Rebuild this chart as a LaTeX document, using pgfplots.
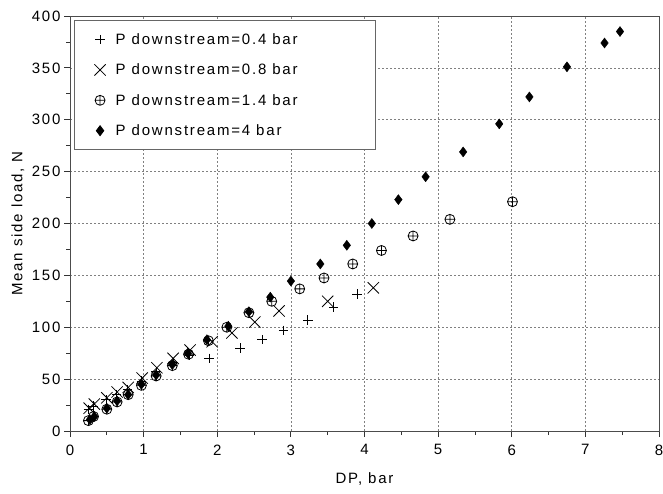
\documentclass[border=0pt]{standalone}
\usepackage{fontspec}
\setmainfont{Liberation Sans}[LetterSpace=12]
\usepackage{pgfplots}
\pgfplotsset{compat=1.18}
\usetikzlibrary{plotmarks,calc}
\pgfplotstableread{
x y
0.25 21
0.32 24
0.49 30
0.63 35
0.78 40
0.97 48
1.17 57
1.40 66
1.62 73
1.89 70
2.31 80
2.61 88
2.90 97
3.23 107
3.58 119.5
3.90 132
}\pa
\pgfplotstableread{
x y
0.26 22
0.33 26
0.50 32
0.64 37.6
0.79 42
0.98 51
1.18 61
1.40 70
1.63 78
1.93 86
2.20 94.5
2.51 105
2.84 115.7
3.50 125
4.12 138
}\pb
\pgfplotstableread{
x y
0.25 10
0.32 14
0.50 21
0.64 28
0.79 35
0.97 44
1.17 53
1.39 63
1.61 74
1.88 87
2.13 100
2.43 114
2.74 125
3.12 137
3.45 147.5
3.84 161
4.23 174
4.66 188
5.16 204
6.01 221
}\pc
\pgfplotstableread{
x y
0.27 11
0.33 14
0.50 22
0.64 29
0.79 35
0.97 45
1.17 54
1.39 64
1.60 75
1.86 88
2.15 101
2.43 115
2.72 129
3.00 144.5
3.40 161
3.76 179
4.10 200
4.46 223
4.83 245
5.34 269
5.83 296
6.24 322
6.75 351
7.26 374
7.47 385
}\pd
\begin{document}
\begin{tikzpicture}
\begin{axis}[
  scale only axis, width=589pt, height=415pt,
  xmin=0, xmax=8, ymin=0, ymax=400,
  xtick={0,1,...,8}, ytick={0,50,...,400},
  minor x tick num=1, minor y tick num=1,
  grid=major,
  major grid style={gray, dash pattern=on 2pt off 2pt, line width=0.7pt},
  tick align=outside, tick pos=left,
  major tick length=6pt, minor tick length=4pt,
  every tick/.style={black!80, line width=0.8pt},
  axis line style={black!70, line width=0.9pt},
  /pgf/number format/assume math mode=true,
  ticklabel style={font=\fontsize{15}{17}\selectfont},
  xticklabel style={yshift=-4pt},
  every axis x label/.style={at={(axis description cs:0.5,-0.1157)}, anchor=center, font=\fontsize{15}{17}\selectfont},
  every axis y label/.style={at={(axis description cs:-0.0883,0.5)}, rotate=90, anchor=center, font=\fontsize{15}{17}\selectfont},
  xlabel={DP, bar}, ylabel={Mean side load, N},
  legend style={at={(axis description cs:0,1)}, anchor=north west,
    xshift=4pt, yshift=-4pt, draw=black!60, line width=0.8pt,
    font=\fontsize{15}{17}\selectfont, row sep=14pt, column sep=8pt,
    inner xsep=20pt, inner ysep=11pt},
  legend cell align=left,
]
\addplot[only marks, mark=+, mark size=4.7pt, line width=0.8pt, black] table {\pa};
\addlegendentry{P downstream=0.4 bar\hspace*{56pt}}
\addplot[only marks, mark=x, mark size=8pt, line width=0.8pt, black] table {\pb};
\addlegendentry{P downstream=0.8 bar}
\addplot[only marks, mark=oplus, mark size=5pt, line width=0.8pt, black] table {\pc};
\addlegendentry{P downstream=1.4 bar}
\addplot[only marks, mark=diamond*, mark size=5pt, black] table {\pd};
\addlegendentry{P downstream=4 bar}
\end{axis}
\pgfresetboundingbox
\path[use as bounding box] ($(current axis.south west)+(-70pt,-62pt)$) rectangle ($(current axis.north east)+(4pt,16pt)$);
\end{tikzpicture}
\end{document}
